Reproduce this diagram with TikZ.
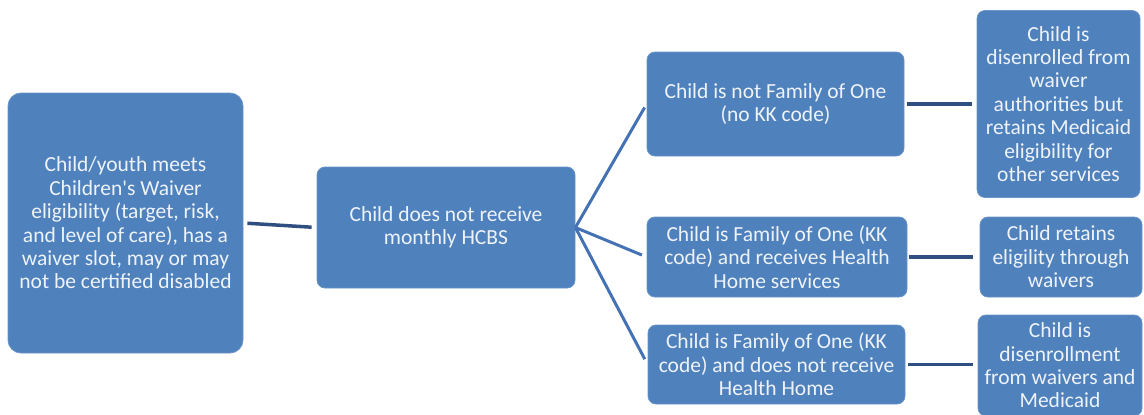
\documentclass[tikz,border=0pt]{standalone}
\usepackage{fontspec}
\setmainfont{Carlito}
\usepackage{tikz}
\usepackage{xcolor}
\definecolor{boxblue}{HTML}{4F81BD}
\definecolor{edgeblue}{HTML}{6A94C8}
\definecolor{fanblue}{HTML}{4472B4}
\definecolor{linkblue}{HTML}{2F4F80}
\definecolor{txtwhite}{HTML}{EEF3FA}

\begin{document}
\begin{tikzpicture}[x=1pt,y=-1pt,
		box/.style={fill=boxblue,draw=edgeblue,line width=0.8pt,rounded corners=8pt,
			text=txtwhite,align=center,inner sep=0pt,
			font=\fontsize{21.5}{23.4}\selectfont},
		link/.style={draw=linkblue,line width=3.5pt},
		fan/.style={draw=fanblue,line width=3pt}]
		\useasboundingbox (0,0) rectangle (1144,415);
		
		\node[box,rounded corners=13pt,minimum width=235pt,minimum height=260pt] 
		(elig) at (125.5,223) {Child/youth meets\\Children\textquotesingle s Waiver\\eligibility (target, risk,\\and level of care), has a\\waiver slot, may or may\\not be certified disabled};
		\node[box,minimum width=258pt,minimum height=121pt] 
		(nohcbs) at (446,227.5) {Child does not receive\\monthly HCBS};
		
		\node[box,minimum width=257pt,minimum height=104pt] 
		(notfam) at (775.5,104) {Child is not Family of One\\(no KK code)};
		\node[box,minimum width=260pt,minimum height=80pt] 
		(famhh) at (777,257) {Child is Family of One (KK\\code) and receives Health\\Home services};
		\node[box,minimum width=257pt,minimum height=79pt] 
		(famnohh) at (776.5,364.5) {Child is Family of One (KK\\code) and does not receive\\Health Home};
		
		\node[box,minimum width=163pt,minimum height=187pt] 
		(disenr) at (1058.5,104) {Child is\\disenrolled from\\waiver\\authorities but\\retains Medicaid\\eligibility for\\other services};
		\node[box,minimum width=162pt,minimum height=80pt] 
		(retain) at (1061,257) {Child retains\\eligility through\\waivers};
		\node[box,minimum width=164pt,minimum height=101pt] 
		(disall) at (1060,365.5) {Child is\\disenrollment\\from waivers and\\Medicaid};
		
		\draw[link,shorten <=4pt,shorten >=5pt] (elig.east) -- (nohcbs.west);
		
		\draw[fan,shorten >=4pt] (nohcbs.east) -- (notfam.west);
		\draw[fan,shorten >=5pt] (nohcbs.east) -- (famhh.west);
		\draw[fan,shorten >=6pt] (nohcbs.east) -- (famnohh.west);
		
		\draw[link,shorten <=3pt,shorten >=5pt] (notfam.east) -- (notfam.east -| disenr.west);
		\draw[link,shorten <=2pt,shorten >=7pt] (famhh.east) -- (famhh.east -| retain.west);
		\draw[link,shorten <=3pt,shorten >=5pt] (famnohh.east) -- (famnohh.east -| disall.west);
	\end{tikzpicture}
\end{document}
